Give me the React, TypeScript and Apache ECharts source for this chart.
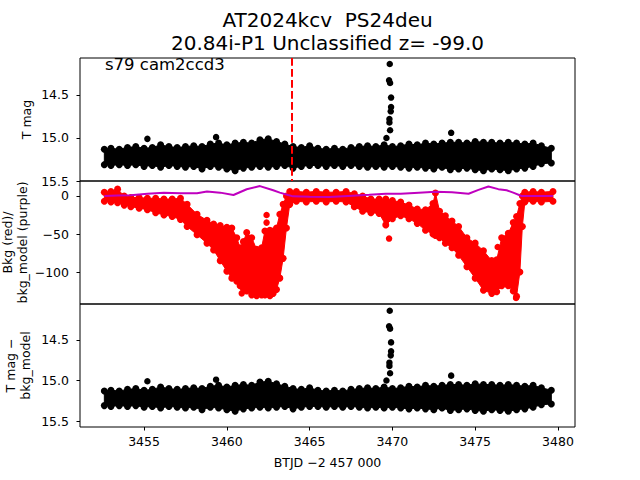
import React, { useEffect, useRef } from "react";
import * as echarts from "echarts";

const FONT = "DejaVu Sans";
const TITLE_LINE1 = "AT2024kcv  PS24deu";
const TITLE_LINE2 = "20.84i-P1 Unclassified z= -99.0";
const SECTOR_LABEL = "s79 cam2ccd3";
const X_LABEL = "BTJD \u22122 457 000";
const Y_LABEL_TOP = "T mag";
const Y_LABEL_MID = "Bkg (red)/\nbkg_model (purple)";
const Y_LABEL_BOT = "T mag \u2212\nbkg_model";

const xTicks = [3455, 3460, 3465, 3470, 3475, 3480];
const magTicks = [14.5, 15.0, 15.5];
const bkgTicks = [0, -50, -100];

const peakTime = 3463.9;

// photometry band envelope (marker centres), in mag
const bandTime = [3452.6, 3453.0, 3453.5, 3454.0, 3454.5, 3455.0, 3455.5, 3456.0, 3456.5, 3457.0, 3457.5, 3458.0, 3458.5, 3459.0, 3459.5, 3460.0, 3460.5, 3461.0, 3461.5, 3462.0, 3462.5, 3463.0, 3463.5, 3464.0, 3464.5, 3465.0, 3465.5, 3466.0, 3466.5, 3467.0, 3467.5, 3468.0, 3468.5, 3469.0, 3469.5, 3470.0, 3470.5, 3471.0, 3471.5, 3472.0, 3472.5, 3473.0, 3473.5, 3474.0, 3474.5, 3475.0, 3475.5, 3476.0, 3476.5, 3477.0, 3477.5, 3478.0, 3478.5, 3479.0, 3479.6];
const bandBright = [15.13, 15.12, 15.13, 15.11, 15.10, 15.12, 15.11, 15.08, 15.10, 15.11, 15.10, 15.09, 15.10, 15.07, 15.06, 15.08, 15.06, 15.05, 15.06, 15.02, 15.01, 15.04, 15.07, 15.10, 15.11, 15.09, 15.12, 15.13, 15.12, 15.13, 15.11, 15.10, 15.09, 15.10, 15.08, 15.10, 15.09, 15.07, 15.08, 15.06, 15.07, 15.06, 15.05, 15.05, 15.06, 15.04, 15.05, 15.05, 15.06, 15.05, 15.06, 15.07, 15.06, 15.09, 15.12];
const bandFaint = [15.31, 15.32, 15.31, 15.32, 15.31, 15.33, 15.32, 15.34, 15.32, 15.33, 15.34, 15.33, 15.36, 15.33, 15.34, 15.36, 15.38, 15.35, 15.34, 15.33, 15.34, 15.33, 15.32, 15.35, 15.33, 15.32, 15.32, 15.33, 15.32, 15.33, 15.32, 15.33, 15.34, 15.33, 15.34, 15.33, 15.34, 15.35, 15.34, 15.35, 15.36, 15.34, 15.37, 15.36, 15.35, 15.37, 15.38, 15.36, 15.37, 15.38, 15.36, 15.35, 15.33, 15.30, 15.29];

// individual bright points (flare and a few outliers)
const outlierTime = [3455.2, 3459.35, 3473.55, 3469.64, 3469.86, 3469.82, 3469.82, 3469.90, 3469.92, 3469.92, 3469.86, 3469.80, 3469.84];
const outlierMag = [15.01, 14.99, 14.94, 15.00, 14.91, 14.82, 14.78, 14.69, 14.64, 14.53, 14.36, 14.33, 14.14];

// background band envelope (marker centres)
const bkgTime = [3452.6, 3453.0, 3453.4, 3453.8, 3454.2, 3454.7, 3455.2, 3455.7, 3456.2, 3456.7, 3457.2, 3457.6, 3458.2, 3458.8, 3459.2, 3459.6, 3460.0, 3460.3, 3460.6, 3460.8, 3461.0, 3461.2, 3461.5, 3461.8, 3462.1, 3462.3, 3462.6, 3462.8, 3463.0, 3463.2, 3463.4, 3463.6, 3463.8, 3464.2, 3464.8, 3465.4, 3466.0, 3466.6, 3467.2, 3467.7, 3468.2, 3468.7, 3469.2, 3469.6, 3470.0, 3470.5, 3471.0, 3471.5, 3472.0, 3472.45, 3472.6, 3472.85, 3473.2, 3473.6, 3474.0, 3474.5, 3475.0, 3475.5, 3476.0, 3476.3, 3476.6, 3477.0, 3477.3, 3477.5, 3477.7, 3477.85, 3478.0, 3478.5, 3479.0, 3479.7];
const bkgHigh = [5, 6, 9, 0, -2, -2, -3, -3, -4, -4, -3, -11, -24, -32, -37, -39, -41, -42, -55, -68, -60, -48, -55, -70, -68, -46, -45, -46, -42, -24, -11, 0, 6, 6, 5, 6, 5, 5, 6, 3, 0, -4, -4, -4, -6, -8, -12, -17, -18, -10, 4, -20, -26, -33, -40, -55, -62, -72, -85, -84, -55, -49, -35, -27, -10, 0, 5, 6, 5, 6];
const bkgLow = [-7, -8, -9, -12, -14, -16, -18, -22, -25, -27, -31, -40, -51, -62, -71, -85, -99, -108, -112, -118, -122, -125, -130, -131, -130, -130, -131, -128, -123, -108, -82, -42, -11, -7, -8, -7, -8, -7, -8, -14, -20, -22, -23, -38, -30, -26, -30, -36, -45, -50, -52, -55, -62, -68, -78, -93, -108, -124, -128, -126, -118, -118, -125, -132, -100, -40, -8, -7, -8, -7];
const bkgOutTime = [3462.4, 3462.4, 3460.9, 3462.0, 3469.8, 3476.36, 3477.47];
const bkgOutVal = [-25, -35, -128, -72, -56, -67, -134];

// bkg model (purple line)
const modelTime = [3452.6, 3453.4, 3454.2, 3455.2, 3456.2, 3457.2, 3458.2, 3458.8, 3459.6, 3460.4, 3461.2, 3462.0, 3462.8, 3463.2, 3463.7, 3464.0, 3465.0, 3466.2, 3467.6, 3468.6, 3469.6, 3470.5, 3471.6, 3472.6, 3473.6, 3474.6, 3475.2, 3475.8, 3476.4, 3476.9, 3477.3, 3477.8, 3478.5, 3479.7];
const modelVal = [0, 0.5, 1, 3, 4.4, 3.5, 3.5, 6, 4.4, 1.3, 8.8, 13, 7.5, 4.4, 1.3, -0.5, -1, -1.3, 0.4, 1.5, 3, 3, 4.4, 5.7, 5, 3, 8, 12.5, 9, 7.5, 4.4, 0, 0, 0];

const BLACK = "#000000";
const RED = "#ff0000";
const PURPLE = "#bf00bf";

function bandPolygon(idx: number, t: number[], hi: number[], lo: number[], color: string) {
  return {
    type: "custom",
    xAxisIndex: idx,
    yAxisIndex: idx,
    silent: true,
    data: [[t[0], hi[0]]],
    renderItem: (_params: any, api: any) => {
      const pts: number[][] = [];
      for (let i = 0; i < t.length; i++) pts.push(api.coord([t[i], hi[i]]));
      for (let i = t.length - 1; i >= 0; i--) pts.push(api.coord([t[i], lo[i]]));
      return {
        type: "polygon",
        shape: { points: pts },
        style: { fill: color, stroke: color, lineWidth: 1 },
      };
    },
  };
}

function edgeScatter(idx: number, t: number[], hi: number[], lo: number[], color: string) {
  const data = t.map((x, i) => [x, hi[i]]).concat(t.map((x, i) => [x, lo[i]]));
  return {
    type: "scatter",
    xAxisIndex: idx,
    yAxisIndex: idx,
    silent: true,
    symbolSize: 7,
    itemStyle: { color, opacity: 1 },
    data,
  };
}

function pointScatter(idx: number, t: number[], v: number[], color: string) {
  return {
    type: "scatter",
    xAxisIndex: idx,
    yAxisIndex: idx,
    silent: true,
    symbolSize: 6.5,
    itemStyle: { color, opacity: 1 },
    data: t.map((x, i) => [x, v[i]]),
  };
}

const tickLabel = { color: BLACK, fontSize: 12.5, fontFamily: FONT };
const minusFmt = (v: number) => (v < 0 ? "\u2212" + Math.abs(v) : String(v));

export default function App() {
  const ref = useRef<HTMLDivElement>(null);
  useEffect(() => {
    if (!ref.current) return;
    const chart = echarts.init(ref.current, undefined, { renderer: "svg" });
    const grids = [58, 181, 304].map((top) => ({
      left: 80,
      top,
      width: 495,
      height: 123,
      show: true,
      borderColor: BLACK,
      borderWidth: 1,
      backgroundColor: "transparent",
    }));
    const xAxisBase = {
      type: "value",
      min: 3451.13,
      max: 3481.03,
      splitLine: { show: false },
      axisLine: { show: false },
    };
    const yBase = {
      type: "value",
      splitLine: { show: false },
      axisLine: { show: false },
      axisTick: { show: true, length: 3.5, lineStyle: { color: BLACK, width: 1 } },
    };
    const option: any = {
      animation: false,
      backgroundColor: "#ffffff",
      grid: grids,
      xAxis: [
        { ...xAxisBase, gridIndex: 0, show: false },
        { ...xAxisBase, gridIndex: 1, show: false },
        {
          ...xAxisBase,
          gridIndex: 2,
          axisTick: { show: true, length: 3.5, customValues: xTicks, lineStyle: { color: BLACK, width: 1 } },
          axisLabel: { ...tickLabel, margin: 8, customValues: xTicks, formatter: (v: number) => String(v) },
        },
      ],
      yAxis: [
        {
          ...yBase,
          gridIndex: 0,
          inverse: true,
          min: 14.07,
          max: 15.5,
          axisTick: { ...yBase.axisTick, customValues: magTicks },
          axisLabel: { ...tickLabel, margin: 11, customValues: magTicks, formatter: (v: number) => v.toFixed(1) },
        },
        {
          ...yBase,
          gridIndex: 1,
          min: -142,
          max: 19.7,
          axisTick: { ...yBase.axisTick, customValues: bkgTicks },
          axisLabel: { ...tickLabel, margin: 11, customValues: bkgTicks, formatter: minusFmt },
        },
        {
          ...yBase,
          gridIndex: 2,
          inverse: true,
          min: 14.056,
          max: 15.574,
          axisTick: { ...yBase.axisTick, customValues: magTicks },
          axisLabel: { ...tickLabel, margin: 11, customValues: magTicks, formatter: (v: number) => v.toFixed(1) },
        },
      ],
      series: [
        // top panel
        bandPolygon(0, bandTime, bandBright, bandFaint, BLACK),
        edgeScatter(0, bandTime, bandBright, bandFaint, BLACK),
        {
          ...pointScatter(0, outlierTime, outlierMag, BLACK),
          markLine: {
            silent: true,
            symbol: ["none", "none"],
            label: { show: false },
            lineStyle: { color: RED, width: 2, type: [7.7, 3.3] },
            data: [{ xAxis: peakTime }],
          },
        },
        // middle panel
        bandPolygon(1, bkgTime, bkgHigh, bkgLow, RED),
        edgeScatter(1, bkgTime, bkgHigh, bkgLow, RED),
        pointScatter(1, bkgOutTime, bkgOutVal, RED),
        {
          type: "line",
          xAxisIndex: 1,
          yAxisIndex: 1,
          silent: true,
          showSymbol: false,
          symbol: "none",
          lineStyle: { color: PURPLE, width: 2 },
          data: modelTime.map((x, i) => [x, modelVal[i]]),
          z: 5,
        },
        // bottom panel
        bandPolygon(2, bandTime, bandBright, bandFaint, BLACK),
        edgeScatter(2, bandTime, bandBright, bandFaint, BLACK),
        pointScatter(2, outlierTime, outlierMag, BLACK),
      ],
      graphic: [
        {
          type: "text",
          x: 327.5,
          y: 31.5,
          style: {
            text: TITLE_LINE1 + "\n" + TITLE_LINE2,
            fill: BLACK,
            fontSize: 20,
            fontFamily: FONT,
            align: "center",
            verticalAlign: "middle",
            lineHeight: 23,
          },
        },
        {
          type: "text",
          x: 105,
          y: 64,
          style: { text: SECTOR_LABEL, fill: BLACK, fontSize: 16.5, fontFamily: FONT, align: "left", verticalAlign: "middle" },
          z: 10,
        },
        {
          type: "text",
          x: 327.5,
          y: 462,
          style: { text: X_LABEL, fill: BLACK, fontSize: 12.5, fontFamily: FONT, align: "center", verticalAlign: "middle" },
        },
        {
          type: "text",
          x: 26,
          y: 119.5,
          rotation: Math.PI / 2,
          style: { text: Y_LABEL_TOP, fill: BLACK, fontSize: 12.5, fontFamily: FONT, align: "center", verticalAlign: "middle", lineHeight: 15 },
        },
        {
          type: "text",
          x: 15,
          y: 242.5,
          rotation: Math.PI / 2,
          style: { text: Y_LABEL_MID, fill: BLACK, fontSize: 12.5, fontFamily: FONT, align: "center", verticalAlign: "middle", lineHeight: 15 },
        },
        {
          type: "text",
          x: 18,
          y: 365.5,
          rotation: Math.PI / 2,
          style: { text: Y_LABEL_BOT, fill: BLACK, fontSize: 12.5, fontFamily: FONT, align: "center", verticalAlign: "middle", lineHeight: 15 },
        },
      ],
    };
    chart.setOption(option);
    return () => chart.dispose();
  }, []);
  return (
    <div
      ref={ref}
      style={{ position: "absolute", left: 0, top: 0, width: 640, height: 480, background: "#fff" }}
    />
  );
}
